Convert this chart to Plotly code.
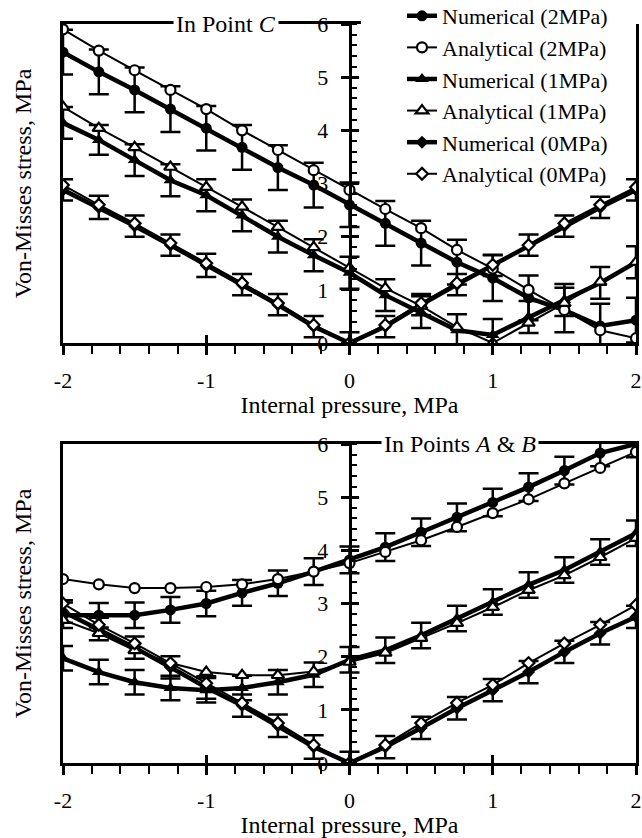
import plotly.graph_objects as go

# ---------------- data ----------------
pressure = [-2.0, -1.75, -1.5, -1.25, -1.0, -0.75, -0.5, -0.25, 0.0,
            0.25, 0.5, 0.75, 1.0, 1.25, 1.5, 1.75, 2.0]

x_tick_vals = [-2, -1, 0, 1, 2]
x_tick_text = ["-2", "-1", "0", "1", "2"]
y_tick_vals = [0, 1, 2, 3, 4, 5, 6]
y_tick_text = ["0", "1", "2", "3", "4", "5", "6"]

series_names = ["Numerical (2MPa)", "Analytical (2MPa)",
                "Numerical (1MPa)", "Analytical (1MPa)",
                "Numerical (0MPa)", "Analytical (0MPa)"]

# Point C (top panel)
num2_C = [5.47, 5.10, 4.76, 4.40, 4.04, 3.68, 3.30, 2.97, 2.60, 2.25, 1.88, 1.52, 1.22, 0.85, 0.62, 0.32, 0.43]
ana2_C = [5.90, 5.50, 5.13, 4.76, 4.40, 4.00, 3.63, 3.25, 2.88, 2.52, 2.16, 1.75, 1.40, 1.00, 0.62, 0.24, 0.09]
err2_C = [0.42, 0.42, 0.42, 0.43, 0.42, 0.42, 0.42, 0.42, 0.42, 0.42, 0.42, 0.42, 0.43, 0.42, 0.42, 0.42, 0.42]
num1_C = [4.14, 3.82, 3.44, 3.06, 2.78, 2.40, 2.00, 1.65, 1.32, 0.90, 0.58, 0.24, 0.15, 0.49, 0.81, 1.13, 1.52]
ana1_C = [4.44, 4.04, 3.68, 3.31, 2.93, 2.56, 2.18, 1.80, 1.41, 1.03, 0.70, 0.30, 0.00, 0.38, 0.75, 1.15, 1.52]
err1_C = [0.30, 0.28, 0.30, 0.30, 0.30, 0.30, 0.30, 0.30, 0.30, 0.30, 0.30, 0.30, 0.30, 0.30, 0.30, 0.30, 0.30]
num0_C = [2.88, 2.55, 2.20, 1.84, 1.46, 1.10, 0.72, 0.31, 0.00, 0.31, 0.72, 1.10, 1.46, 1.84, 2.20, 2.55, 2.88]
ana0_C = [2.97, 2.60, 2.25, 1.88, 1.50, 1.13, 0.75, 0.34, 0.00, 0.34, 0.75, 1.13, 1.47, 1.84, 2.25, 2.60, 2.93]
err0_C = [0.20, 0.22, 0.20, 0.20, 0.22, 0.20, 0.20, 0.20, 0.20, 0.20, 0.20, 0.20, 0.20, 0.20, 0.20, 0.20, 0.20]

# Points A & B (bottom panel)
num2_AB = [2.78, 2.78, 2.78, 2.88, 3.00, 3.20, 3.38, 3.60, 3.82, 4.06, 4.34, 4.62, 4.90, 5.19, 5.50, 5.83, 6.00]
ana2_AB = [3.46, 3.36, 3.29, 3.29, 3.31, 3.36, 3.46, 3.60, 3.76, 3.97, 4.19, 4.44, 4.70, 4.96, 5.26, 5.55, 5.85]
err2_AB = [0.24, 0.23, 0.24, 0.24, 0.24, 0.24, 0.24, 0.25, 0.25, 0.26, 0.26, 0.26, 0.26, 0.26, 0.26, 0.25, 0.25]
num1_AB = [1.97, 1.71, 1.52, 1.41, 1.37, 1.41, 1.52, 1.66, 1.94, 2.12, 2.40, 2.72, 3.03, 3.35, 3.63, 3.97, 4.32]
ana1_AB = [2.69, 2.44, 2.12, 1.88, 1.71, 1.65, 1.65, 1.72, 1.90, 2.07, 2.35, 2.63, 2.93, 3.25, 3.53, 3.87, 4.23]
err1_AB = [0.23, 0.23, 0.23, 0.23, 0.23, 0.23, 0.23, 0.23, 0.24, 0.24, 0.24, 0.24, 0.24, 0.24, 0.24, 0.24, 0.24]
num0_AB = [2.85, 2.52, 2.17, 1.80, 1.42, 1.08, 0.70, 0.30, 0.00, 0.30, 0.66, 1.03, 1.37, 1.71, 2.09, 2.44, 2.75]
ana0_AB = [3.00, 2.60, 2.25, 1.88, 1.50, 1.13, 0.75, 0.34, 0.00, 0.34, 0.75, 1.13, 1.47, 1.88, 2.25, 2.60, 2.97]
err0_AB = [0.21, 0.21, 0.21, 0.21, 0.21, 0.21, 0.21, 0.22, 0.21, 0.21, 0.21, 0.21, 0.21, 0.21, 0.21, 0.21, 0.21]

panel_titles = ["In Point <i>C</i>", "In Points <i>A</i> &amp; <i>B</i>"]
x_title = "Internal pressure, MPa"
y_title = "Von-Misses stress, MPa"

# ---------------- styling ----------------
FONT = "Liberation Serif"
W, H = 642, 838
X0, X1 = 63, 636                 # plot left / right (px)
TOP = (24, 343)                  # top panel y=6 / y=0 (px)
BOT = (444, 763)                 # bottom panel
xdom = [X0 / W, X1 / W]
ydom_top = [1 - TOP[1] / H, 1 - TOP[0] / H]
ydom_bot = [1 - BOT[1] / H, 1 - BOT[0] / H]
mid_pos = ((X0 + X1) / 2) / W
frame_end = 358 / W

fig = go.Figure()

num_sym = ["circle", "triangle-up", "diamond"]
ana_sym = ["circle", "triangle-up", "diamond"]
num_size = [11, 12, 10]
ana_size = [10, 11, 9]

panels = [
    ("x", "y", [num2_C, num1_C, num0_C], [ana2_C, ana1_C, ana0_C], [err2_C, err1_C, err0_C], True),
    ("x2", "y2", [num2_AB, num1_AB, num0_AB], [ana2_AB, ana1_AB, ana0_AB], [err2_AB, err1_AB, err0_AB], False),
]

for xa, ya, nums, anas, errs, show in panels:
    for i in range(3):
        fig.add_trace(go.Scatter(
            x=pressure, y=nums[i], xaxis=xa, yaxis=ya, mode="lines+markers",
            name=series_names[2 * i], showlegend=show, legendrank=2 * i + 1,
            line=dict(color="black", width=4.5),
            marker=dict(symbol=num_sym[i], size=num_size[i], color="black"),
            error_y=dict(type="data", array=errs[i], visible=True,
                         color="black", thickness=2.5, width=10),
            hoverinfo="skip"))
    for i in range(3):
        fig.add_trace(go.Scatter(
            x=pressure, y=anas[i], xaxis=xa, yaxis=ya, mode="lines+markers",
            name=series_names[2 * i + 1], showlegend=show, legendrank=2 * i + 2,
            line=dict(color="black", width=2),
            marker=dict(symbol=ana_sym[i], size=ana_size[i], color="white",
                        line=dict(color="black", width=2.2)),
            hoverinfo="skip"))

# empty traces so the decorative overlay axes get drawn
for xa, ya in [("x3", "y"), ("x", "y3"), ("x", "y5"), ("x5", "y"),
               ("x4", "y2"), ("x2", "y4"), ("x2", "y6")]:
    fig.add_trace(go.Scatter(x=[], y=[], xaxis=xa, yaxis=ya, showlegend=False,
                             hoverinfo="skip"))

tickfont = dict(family=FONT, size=22, color="black")
titlefont = dict(family=FONT, size=24, color="black")


def xmain(anchor, dom, mirror):
    return dict(domain=dom, anchor=anchor, range=[-2, 2], showline=True,
                linecolor="black", linewidth=2.5, mirror=mirror,
                ticks="outside", ticklen=9, tickwidth=2.5, tickcolor="black",
                tickmode="array", tickvals=x_tick_vals, ticktext=x_tick_text,
                minor=dict(ticks="outside", ticklen=8, tickwidth=2, tickcolor="black",
                           tickmode="linear", tick0=-2, dtick=0.2),
                showgrid=False, zeroline=False, tickfont=tickfont,
                ticklabelstandoff=7, automargin=False)


def xover(base, anchor):
    return dict(overlaying=base, anchor=anchor, range=[-2, 2], showline=False,
                ticks="inside", ticklen=8, tickwidth=2.5, tickcolor="black",
                tickmode="array", tickvals=x_tick_vals, showticklabels=False,
                showgrid=False, zeroline=False, automargin=False,
                title=dict(text=x_title, font=titlefont, standoff=53))


def yframe(anchor, dom):
    return dict(domain=dom, anchor=anchor, range=[0, 6], showline=True,
                linecolor="black", linewidth=2.5, mirror=True, ticks="",
                showticklabels=False, showgrid=False, zeroline=False,
                automargin=False,
                title=dict(text=y_title, font=titlefont, standoff=22))


def ymid(base):
    return dict(overlaying=base, anchor="free", position=mid_pos, side="left",
                range=[0, 6], showline=True, linecolor="black", linewidth=2.5,
                ticks="outside", ticklen=8, tickwidth=2.5, tickcolor="black",
                tickmode="array", tickvals=y_tick_vals, ticktext=y_tick_text,
                minor=dict(ticks="inside", ticklen=6, tickwidth=2, tickcolor="black",
                           tickmode="linear", tick0=0, dtick=0.2),
                showgrid=False, zeroline=False, tickfont=tickfont,
                ticklabelstandoff=8, automargin=False)


def ymid_in(base):
    return dict(overlaying=base, anchor="free", position=mid_pos, side="left",
                range=[0, 6], showline=False, ticks="inside", ticklen=8,
                tickwidth=2.5, tickcolor="black", tickmode="array",
                tickvals=y_tick_vals, showticklabels=False, showgrid=False,
                zeroline=False, automargin=False)


fig.update_layout(
    width=W, height=H, margin=dict(l=0, r=0, t=0, b=0, autoexpand=False),
    paper_bgcolor="white", plot_bgcolor="rgba(0,0,0,0)",
    font=dict(family=FONT, color="black"),
    xaxis=xmain("y", xdom, False),
    xaxis2=xmain("y2", xdom, True),
    xaxis3=xover("x", "y"),
    xaxis4=xover("x2", "y2"),
    xaxis5=dict(domain=[xdom[0], frame_end], anchor="y", side="top", range=[0, 1],
                showline=True, linecolor="black", linewidth=2.5, ticks="",
                showticklabels=False, showgrid=False, zeroline=False, automargin=False),
    yaxis=yframe("x", ydom_top),
    yaxis2=yframe("x2", ydom_bot),
    yaxis3=ymid("y"),
    yaxis4=ymid("y2"),
    yaxis5=ymid_in("y"),
    yaxis6=ymid_in("y2"),
    legend=dict(x=402 / W, y=1.006, xanchor="left", yanchor="top",
                bgcolor="white", borderwidth=0, tracegroupgap=0,
                font=dict(family=FONT, size=22, color="black")),
    showlegend=True,
)

fig.add_annotation(x=-0.864, y=6, xref="x", yref="y", text=panel_titles[0],
                   showarrow=False, bgcolor="white", font=titlefont,
                   xanchor="center", yanchor="middle", borderpad=2)
fig.add_annotation(x=0.774, y=6, xref="x2", yref="y2", text=panel_titles[1],
                   showarrow=False, bgcolor="white", font=titlefont,
                   xanchor="center", yanchor="middle", borderpad=2)

# remove the browser's default page margin so the figure sits at the window corner
fig.write_html("out.html", config={"displayModeBar": False},
               post_script="document.body.style.margin='0px';")
